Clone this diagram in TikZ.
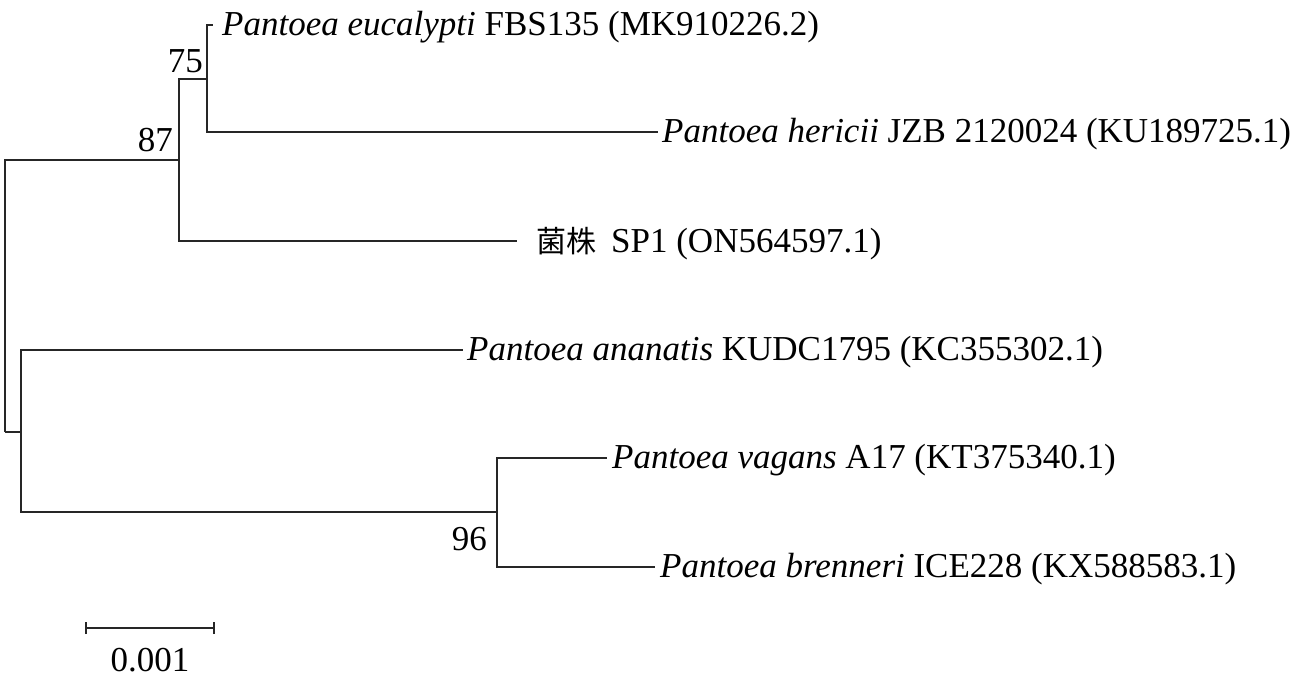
\documentclass[tikz,border=0pt]{standalone}
\usepackage{fontspec}
\setmainfont{Liberation Serif}
\newfontfamily\cjk{Noto Sans CJK SC}
\begin{document}
\begin{tikzpicture}[x=1pt,y=-1pt,
  br/.style={line width=1.4pt,draw=black!85},
  leaf/.style={anchor=west,inner sep=0pt,font=\fontsize{35}{40}\selectfont},
  boot/.style={inner sep=0pt,font=\fontsize{35}{40}\selectfont}]
\useasboundingbox (0,0) rectangle (1299,681);
% internal nodes
\coordinate (root) at (5,432);
\coordinate (n87) at (179,160);
\coordinate (n75) at (207,79);
\coordinate (nlow) at (21,432);
\coordinate (n96) at (497,512);
% leaf ends
\coordinate (euc) at (213,25);
\coordinate (her) at (658,132);
\coordinate (sp1) at (517,241);
\coordinate (ana) at (463,350);
\coordinate (vag) at (607,458);
\coordinate (bre) at (655,567);
% branches
\draw[br] (root) |- (n87);
\draw[br] (root) -- (nlow);
\draw[br] (n87) |- (n75);
\draw[br] (n87) |- (sp1);
\draw[br] (n75) |- (euc);
\draw[br] (n75) |- (her);
\draw[br] (nlow) |- (ana);
\draw[br] (nlow) |- (n96);
\draw[br] (n96) |- (vag);
\draw[br] (n96) |- (bre);
% labels
\node[leaf] (leuc) at ([xshift=9pt,yshift=-2.5pt]euc) {\textit{Pantoea eucalypti} FBS135 (MK910226.2)};
\node[leaf] (lher) at ([xshift=4pt,yshift=-2.5pt]her) {\textit{Pantoea hericii} JZB 2120024 (KU189725.1)};
\node[leaf] (lsp1) at ([xshift=19pt,yshift=-2.5pt]sp1) {{\cjk\fontsize{30}{34}\selectfont 菌株}\hspace{15pt}SP1 (ON564597.1)};
\node[leaf] (lana) at ([xshift=4pt,yshift=-2.5pt]ana) {\textit{Pantoea ananatis} KUDC1795 (KC355302.1)};
\node[leaf] (lvag) at ([xshift=5pt,yshift=-2.5pt]vag) {\textit{Pantoea vagans} A17 (KT375340.1)};
\node[leaf] (lbre) at ([xshift=5pt,yshift=-2.5pt]bre) {\textit{Pantoea brenneri} ICE228 (KX588583.1)};
% bootstrap values
\node[boot,anchor=south east] (b75) at ([xshift=-4pt,yshift=6pt]n75) {75};
\node[boot,anchor=south east] (b87) at ([xshift=-6pt,yshift=8pt]n87) {87};
\node[boot,anchor=north east] (b96) at ([xshift=-10pt,yshift=-15pt]n96) {96};
% scale bar
\coordinate (sbl) at (86,628);
\coordinate (sbr) at (214,628);
\draw[br,line width=1.2pt] (sbl) -- (sbr);
\draw[br,line width=1.2pt] ([yshift=-6pt]sbl) -- ([yshift=6pt]sbl);
\draw[br,line width=1.2pt] ([yshift=-6pt]sbr) -- ([yshift=6pt]sbr);
\node[boot,anchor=north] (sblab) at (150,648) {0.001};
\end{tikzpicture}
\end{document}
